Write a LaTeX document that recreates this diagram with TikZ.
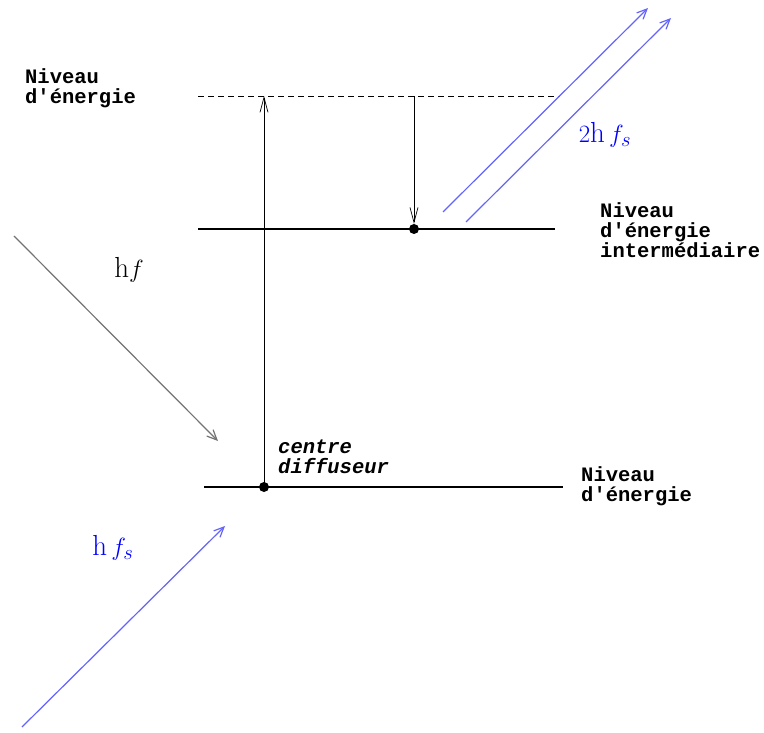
\documentclass[tikz,border=0pt]{standalone}
\usepackage{amsmath,amssymb}
\usepackage{xcolor}
\usepackage{fontspec}
\setmonofont{Liberation Mono}
\usepackage{tikz}
\usetikzlibrary{arrows.meta,positioning}

\definecolor{photon}{RGB}{100,100,250}

\begin{document}
\begin{tikzpicture}[x=1pt, y=-1pt,
      every node/.style={inner sep=0pt},
      lbl/.style={font=\fontsize{20.5}{20}\selectfont\ttfamily\bfseries,
        align=left, anchor=west},
      ilbl/.style={font=\fontsize{20.5}{20}\selectfont\ttfamily\bfseries\itshape,
        align=left, anchor=west},
      mlbl/.style={font=\fontsize{29}{30}\selectfont},
      level/.style={line width=1.2pt},
      dot/.style={circle, fill=black, minimum size=10pt},
      trans/.style={line width=1pt, -{Straight Barb[length=15pt,width=8pt,line width=0.7pt]}},
      ray/.style={line width=1.2pt, color=photon, -{Straight Barb[length=10pt,width=9pt]}},
      inray/.style={line width=1.2pt, color=black!55, -{Straight Barb[length=10pt,width=9pt]}}
    ]
    \useasboundingbox (0,0) rectangle (764,733);

    % niveaux
    \coordinate (V1) at (198,96);
    \coordinate (V2) at (560,96);
    \coordinate (I1) at (198,229);
    \coordinate (I2) at (555,229);
    \coordinate (F1) at (204,487);
    \coordinate (F2) at (563,487);
    \draw[level, dashed, dash pattern=on 6pt off 4pt, line width=0.9pt] (V1) -- (V2);
    \draw[level] (I1) -- (I2);
    \draw[level] (F1) -- (F2);

    \node[dot] (C) at (264,487) {};
    \node[dot] (D) at (414,229) {};
    \coordinate (Vup) at (264,96);
    \coordinate (Vdn) at (414,96);

    \draw[trans] (C.center) -- (Vup);
    \draw[trans] (Vdn) -- (D.north);

    % photons
    \coordinate (A1) at (14,236);
    \coordinate (A2) at (218,441);
    \coordinate (B1) at (22,727);
    \coordinate (B2) at (225,526);
    \coordinate (S1) at (443,212);
    \coordinate (S2) at (648,8);
    \coordinate (T1) at (466,222);
    \coordinate (T2) at (671,18);
    \draw[inray] (A1) -- (A2);
    \draw[ray] (B1) -- (B2);
    \draw[ray] (S1) -- (S2);
    \draw[ray] (T1) -- (T2);

    % textes
    \node[lbl] (niv1) at (25,88) {Niveau\\d'énergie};
    \node[lbl] (niv2) at (600,230) {Niveau\\d'énergie\\intermédiaire};
    \node[lbl] (niv3) at (581,486) {Niveau\\d'énergie};
    \node[ilbl] (cd) at (278,457) {centre\\diffuseur};
    \node[mlbl] (hf) at (129,270) {$\mathrm{h}f$};
    \node[mlbl, text=blue] (hfs) at (113,548) {$\mathrm{h}\,f_s$};
    \node[mlbl, text=blue] (hfs2) at (605,135) {$2\mathrm{h}\,f_s$};
  \end{tikzpicture}
\end{document}
